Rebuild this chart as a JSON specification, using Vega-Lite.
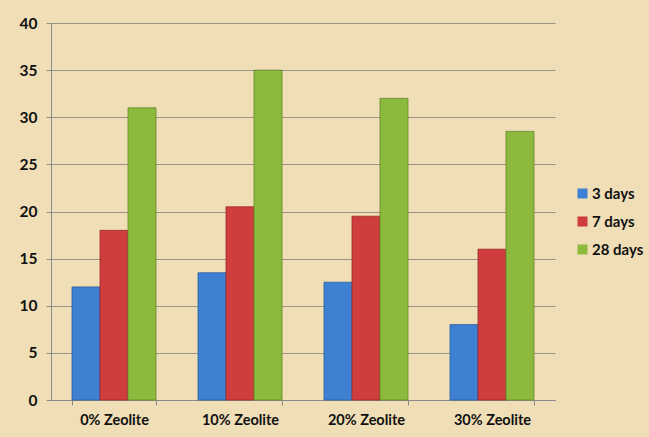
{
  "$schema": "https://vega.github.io/schema/vega-lite/v6.json",
  "width": 504,
  "height": 377,
  "autosize": {"type": "none"},
  "padding": {"left": 51, "top": 23, "right": 94, "bottom": 37},
  "background": "#EFDEB6",
  "data": {
    "values": [
      {"mix": "0% Zeolite", "age": "3 days", "strength": 12},
      {"mix": "0% Zeolite", "age": "7 days", "strength": 18},
      {"mix": "0% Zeolite", "age": "28 days", "strength": 31},
      {"mix": "10% Zeolite", "age": "3 days", "strength": 13.5},
      {"mix": "10% Zeolite", "age": "7 days", "strength": 20.5},
      {"mix": "10% Zeolite", "age": "28 days", "strength": 35},
      {"mix": "20% Zeolite", "age": "3 days", "strength": 12.5},
      {"mix": "20% Zeolite", "age": "7 days", "strength": 19.5},
      {"mix": "20% Zeolite", "age": "28 days", "strength": 32},
      {"mix": "30% Zeolite", "age": "3 days", "strength": 8},
      {"mix": "30% Zeolite", "age": "7 days", "strength": 16},
      {"mix": "30% Zeolite", "age": "28 days", "strength": 28.5}
    ]
  },
  "config": {
    "view": {"stroke": null},
    "font": "Lato"
  },
  "mark": {"type": "bar", "strokeWidth": 0.8},
  "encoding": {
    "x": {
      "field": "mix",
      "type": "nominal",
      "sort": ["0% Zeolite", "10% Zeolite", "20% Zeolite", "30% Zeolite"],
      "scale": {"paddingInner": 0.3333, "paddingOuter": 0.1667},
      "axis": {
        "title": null,
        "labelAngle": 0,
        "labelFont": "Lato",
        "labelFontWeight": "bold",
        "labelFontSize": 14.5,
        "labelColor": "#111111",
        "labelPadding": 8,
        "domainColor": "#8a8a8a",
        "tickColor": "#8a8a8a",
        "tickSize": 5,
        "tickBand": "extent",
        "grid": false
      }
    },
    "xOffset": {
      "field": "age",
      "type": "nominal",
      "sort": ["3 days", "7 days", "28 days"],
      "scale": {"paddingInner": 0, "paddingOuter": 0}
    },
    "y": {
      "field": "strength",
      "type": "quantitative",
      "scale": {"domain": [0, 40], "nice": false},
      "axis": {
        "title": null,
        "values": [0, 5, 10, 15, 20, 25, 30, 35, 40],
        "labelFont": "Lato",
        "labelFontWeight": "bold",
        "labelFontSize": 15.5,
        "labelColor": "#111111",
        "labelPadding": 9,
        "domainColor": "#8a8a8a",
        "tickColor": "#8a8a8a",
        "tickSize": 5,
        "gridColor": "#9a9488",
        "gridWidth": 1.2
      }
    },
    "color": {
      "field": "age",
      "type": "nominal",
      "sort": ["3 days", "7 days", "28 days"],
      "scale": {
        "domain": ["3 days", "7 days", "28 days"],
        "range": ["#3E80D2", "#CF3D3D", "#8DBA3C"]
      },
      "legend": {
        "title": null,
        "orient": "none",
        "legendX": 524,
        "legendY": 163,
        "symbolType": "square",
        "symbolSize": 100,
        "symbolStrokeWidth": 0,
        "rowPadding": 12,
        "labelFont": "Lato",
        "labelFontWeight": "bold",
        "labelFontSize": 15,
        "labelColor": "#111111",
        "labelOffset": 2
      }
    },
    "stroke": {
      "field": "age",
      "type": "nominal",
      "scale": {
        "domain": ["3 days", "7 days", "28 days"],
        "range": ["#2c5f9e", "#9a2a2a", "#63862a"]
      },
      "legend": null
    }
  }
}
